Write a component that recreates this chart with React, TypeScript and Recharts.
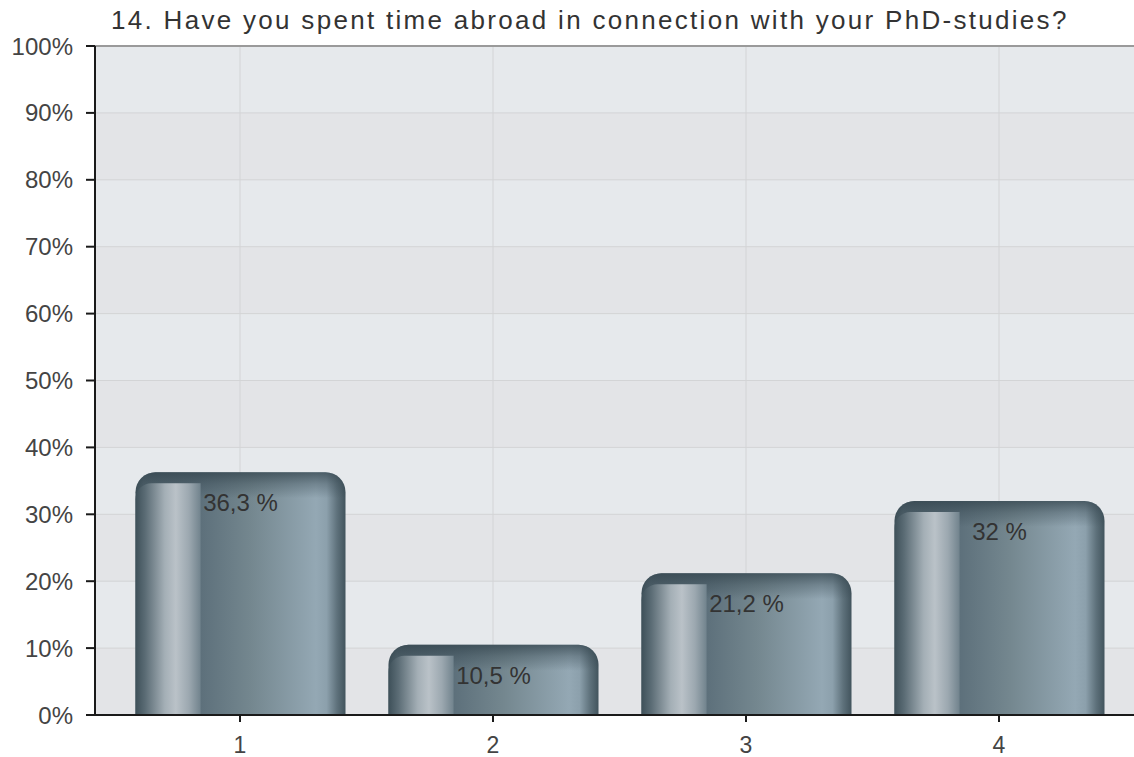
import React from "react";
import {
    BarChart, Bar, XAxis, YAxis, CartesianGrid, LabelList, ReferenceLine
} from "recharts";

// values
const categories = ["1", "2", "3", "4"];
const shares = [36.3, 10.5, 21.2, 32];
const yTicks = [0, 10, 20, 30, 40, 50, 60, 70, 80, 90, 100];
const title = "14. Have you spent time abroad in connection with your PhD-studies?";

const data = categories.map((name, i) => ({ name, value: shares[i] }));

const FONT = '"Liberation Sans", Arial, sans-serif';

const fmtValue = (v: any) => `${String(v).replace(".", ",")} %`;

// rounded "cylinder" bar with the light strip on the left
function CylinderBar(props: any) {
    const { x, y, width: w, height: h } = props;
    if (!h || h <= 0) return null;
    const r = Math.min(20, h / 2, w / 2);
    const oh = Math.min(26, h);
    const outer = `M${x},${y + h} L${x},${y + r} A${r},${r} 0 0 1 ${x + r},${y} L${x + w - r},${y} A${r},${r} 0 0 1 ${x + w},${y + r} L${x + w},${y + h} Z`;
    const top = `M${x},${y + oh} L${x},${y + r} A${r},${r} 0 0 1 ${x + r},${y} L${x + w - r},${y} A${r},${r} 0 0 1 ${x + w},${y + r} L${x + w},${y + oh} Z`;
    const pw = w * 0.31;
    const py = y + 11;
    const r2 = Math.min(16, (y + h - py) / 2);
    const panel = `M${x},${y + h} L${x},${py + r2} A${r2},${r2} 0 0 1 ${x + r2},${py} L${x + pw},${py} L${x + pw},${y + h} Z`;
    return (
        <g>
            <path d={outer} fill="url(#barBody)" />
            <path d={top} fill="url(#barTop)" />
            {h > 14 && <path d={panel} fill="url(#barPanel)" />}
        </g>
    );
}

export default function App() {
    return (
        <div style={{ position: "fixed", left: 0, top: 0, width: 1134, height: 757, overflow: "hidden", background: "#fff" }}>
            <div style={{
                position: "absolute", left: 111, top: 5, fontFamily: FONT, fontSize: 26,
                letterSpacing: 2.3, color: "#333", whiteSpace: "nowrap", lineHeight: "30px"
            }}>
                {title}
            </div>
            <BarChart
                width={1160}
                height={757}
                data={data}
                margin={{ top: 46, right: 16, left: 0, bottom: 0 }}
                barSize={210}
            >
                <defs>
                    <linearGradient id="barBody" x1="0" y1="0" x2="1" y2="0">
                        <stop offset="0" stopColor="#3E5059" />
                        <stop offset="0.04" stopColor="#53656F" />
                        <stop offset="0.31" stopColor="#5D707B" />
                        <stop offset="0.55" stopColor="#74878F" />
                        <stop offset="0.86" stopColor="#94A8B4" />
                        <stop offset="0.91" stopColor="#8CA0AC" />
                        <stop offset="0.96" stopColor="#5E717B" />
                        <stop offset="1" stopColor="#42545D" />
                    </linearGradient>
                    <linearGradient id="barPanel" x1="0" y1="0" x2="1" y2="0">
                        <stop offset="0" stopColor="#3E5059" />
                        <stop offset="0.15" stopColor="#5B6C75" />
                        <stop offset="0.45" stopColor="#A4AFB6" />
                        <stop offset="0.62" stopColor="#BAC2C8" />
                        <stop offset="0.82" stopColor="#9CA8B0" />
                        <stop offset="1" stopColor="#71838D" />
                    </linearGradient>
                    <linearGradient id="barTop" x1="0" y1="0" x2="0" y2="1">
                        <stop offset="0" stopColor="#33444D" stopOpacity={0.75} />
                        <stop offset="0.45" stopColor="#33444D" stopOpacity={0.35} />
                        <stop offset="1" stopColor="#33444D" stopOpacity={0} />
                    </linearGradient>
                </defs>
                <CartesianGrid
                    stroke="#D3D4D6"
                    horizontalFill={["#E6E9EC", "#E3E4E7"]}
                />
                <ReferenceLine y={100} stroke="#9A9A9A" strokeWidth={2} />
                <XAxis
                    dataKey="name"
                    height={42}
                    padding={{ left: 18.5, right: 18.5 }}
                    axisLine={{ stroke: "#1A1A1A", strokeWidth: 2 }}
                    tickLine={{ stroke: "#1A1A1A", strokeWidth: 2 }}
                    tickSize={7}
                    tickMargin={15}
                    tick={{ fill: "#444", fontSize: 23, fontFamily: FONT }}
                />
                <YAxis
                    width={95}
                    domain={[0, 100]}
                    ticks={yTicks}
                    interval={0}
                    tickFormatter={(v) => `${v}%`}
                    axisLine={{ stroke: "#1A1A1A", strokeWidth: 2 }}
                    tickLine={{ stroke: "#1A1A1A", strokeWidth: 2 }}
                    tickSize={9}
                    tickMargin={13}
                    tick={{ fill: "#444", fontSize: 24, fontFamily: FONT }}
                />
                <Bar dataKey="value" shape={CylinderBar} isAnimationActive={false}>
                    <LabelList
                        dataKey="value"
                        position="insideTop"
                        offset={22}
                        formatter={fmtValue}
                        fill="#333"
                        fontSize={24}
                        fontFamily={FONT}
                    />
                </Bar>
            </BarChart>
        </div>
    );
}
